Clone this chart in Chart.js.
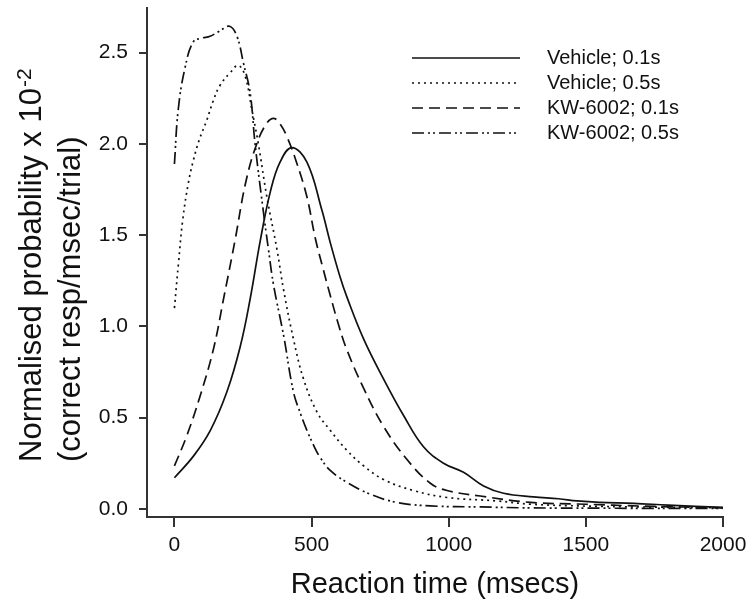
<!DOCTYPE html>
<html>
<head>
<meta charset="utf-8">
<title>Reaction time distributions</title>
<script src="https://cdn.jsdelivr.net/npm/chart.js@4.4.1/dist/chart.umd.min.js"></script>
<style>
  html, body { margin: 0; padding: 0; background: #fff; }
  #wrap { width: 747px; height: 611px; }
</style>
</head>
<body>
<div id="wrap"><canvas id="rtChart" width="747" height="611"></canvas></div>
<script>
const seriesNames = ['Vehicle; 0.1s', 'Vehicle; 0.5s', 'KW-6002; 0.1s', 'KW-6002; 0.5s'];

// reaction time (ms) / normalised probability (x 10^-2)
const vehicle01Ms = [0, 70, 131, 191, 240, 276, 313, 350, 385, 428, 483, 537, 568, 604, 629, 690, 763, 836, 908, 981, 1054, 1127, 1200, 1309, 1400, 1468, 1550, 1675, 1800, 2000];
const vehicle01Prob = [0.17, 0.29, 0.43, 0.64, 0.89, 1.15, 1.47, 1.74, 1.90, 1.98, 1.90, 1.64, 1.46, 1.27, 1.16, 0.93, 0.71, 0.51, 0.34, 0.25, 0.20, 0.125, 0.085, 0.065, 0.055, 0.043, 0.035, 0.03, 0.02, 0.008];

const vehicle05Ms = [0, 15, 30, 50, 69, 90, 118, 140, 166, 203, 233, 258, 282, 306, 337, 374, 398, 434, 471, 520, 568, 629, 690, 763, 872, 994, 1176, 1300, 1500, 1700, 2000];
const vehicle05Prob = [1.10, 1.35, 1.58, 1.78, 1.91, 2.02, 2.13, 2.23, 2.32, 2.39, 2.43, 2.37, 2.19, 2.00, 1.71, 1.42, 1.20, 0.93, 0.71, 0.53, 0.43, 0.32, 0.235, 0.16, 0.10, 0.062, 0.043, 0.025, 0.015, 0.01, 0.005];

const kw01Ms = [0, 45, 94, 143, 179, 222, 260, 300, 335, 361, 385, 410, 445, 483, 514, 543, 568, 600, 629, 690, 763, 848, 933, 994, 1115, 1298, 1500, 1700, 2000];
const kw01Prob = [0.235, 0.40, 0.62, 0.88, 1.15, 1.48, 1.79, 2.00, 2.11, 2.14, 2.11, 2.04, 1.90, 1.71, 1.48, 1.31, 1.17, 1.00, 0.87, 0.66, 0.45, 0.27, 0.14, 0.10, 0.07, 0.035, 0.025, 0.015, 0.005];

const kw05Ms = [0, 14, 39, 69, 100, 130, 166, 201, 228, 252, 276, 294, 325, 343, 361, 398, 434, 460, 483, 510, 532, 568, 629, 714, 811, 933, 1115, 1300, 1600, 2000];
const kw05Prob = [1.89, 2.19, 2.42, 2.56, 2.58, 2.59, 2.62, 2.645, 2.59, 2.44, 2.28, 2.00, 1.62, 1.42, 1.23, 0.95, 0.64, 0.52, 0.43, 0.34, 0.28, 0.21, 0.145, 0.08, 0.035, 0.016, 0.01, 0.005, 0.003, 0.002];

const xTicks = [0, 500, 1000, 1500, 2000];
const yTicks = [0, 0.5, 1, 1.5, 2, 2.5];

const ink = '#111';
const axisInk = '#333';
const fontFamily = '"Liberation Sans", Arial, sans-serif';

function toPoints(xs, ys) {
  return xs.map((x, i) => ({ x: x, y: ys[i] }));
}

function makeSeries(label, xs, ys, dash) {
  return {
    label: label,
    data: toPoints(xs, ys),
    borderColor: ink,
    borderWidth: 1.7,
    borderDash: dash,
    pointRadius: 0,
    tension: 0.4,
    fill: false
  };
}

// legend in the top right corner, line samples then labels
const sideLegend = {
  id: 'sideLegend',
  afterDraw(chart) {
    const ctx = chart.ctx;
    ctx.save();
    ctx.font = '20px ' + fontFamily;
    ctx.textBaseline = 'middle';
    ctx.fillStyle = ink;
    chart.data.datasets.forEach((ds, i) => {
      const y = 58 + i * 25;
      ctx.beginPath();
      ctx.setLineDash(ds.borderDash);
      ctx.lineWidth = ds.borderWidth;
      ctx.strokeStyle = ds.borderColor;
      ctx.moveTo(412, y);
      ctx.lineTo(520, y);
      ctx.stroke();
      ctx.setLineDash([]);
      ctx.fillText(ds.label, 547, y);
    });
    ctx.restore();
  }
};

// two line y title with a real superscript
const yTitle = {
  id: 'yTitle',
  afterDraw(chart) {
    const ctx = chart.ctx;
    ctx.save();
    ctx.translate(0, 462);
    ctx.rotate(-Math.PI / 2);
    ctx.fillStyle = ink;
    ctx.textAlign = 'left';
    ctx.textBaseline = 'alphabetic';
    const main = 'Normalised probability x 10';
    ctx.font = '31px ' + fontFamily;
    ctx.fillText(main, 0, 41);
    const w = ctx.measureText(main).width;
    ctx.font = '21px ' + fontFamily;
    ctx.fillText('-2', w + 1, 31);
    ctx.font = '31px ' + fontFamily;
    ctx.fillText('(correct resp/msec/trial)', 0, 80);
    ctx.restore();
  }
};

new Chart(document.getElementById('rtChart'), {
  type: 'line',
  data: {
    datasets: [
      makeSeries(seriesNames[0], vehicle01Ms, vehicle01Prob, []),
      makeSeries(seriesNames[1], vehicle05Ms, vehicle05Prob, [2, 4]),
      makeSeries(seriesNames[2], kw01Ms, kw01Prob, [11, 6]),
      makeSeries(seriesNames[3], kw05Ms, kw05Prob, [12, 4, 2, 3, 2, 4])
    ]
  },
  options: {
    responsive: false,
    animation: false,
    layout: { padding: { top: 8, right: 24, left: 0, bottom: 0 } },
    plugins: {
      legend: { display: false },
      tooltip: { enabled: false }
    },
    scales: {
      x: {
        type: 'linear',
        min: -100,
        max: 2000,
        afterBuildTicks: s => { s.ticks = xTicks.map(v => ({ value: v })); },
        afterFit: s => { s.height = 94; s.paddingLeft = 0; s.paddingRight = 0; },
        grid: { drawOnChartArea: false, drawTicks: true, tickLength: 10, color: axisInk, lineWidth: 2 },
        border: { color: axisInk, width: 2 },
        ticks: {
          color: ink,
          font: { size: 21, family: fontFamily },
          padding: 6,
          maxRotation: 0,
          callback: v => String(v)
        },
        title: {
          display: true,
          text: 'Reaction time (msecs)',
          color: ink,
          font: { size: 29, family: fontFamily },
          padding: { top: 0, bottom: 9 }
        }
      },
      y: {
        type: 'linear',
        min: -0.045,
        max: 2.745,
        afterBuildTicks: s => { s.ticks = yTicks.map(v => ({ value: v })); },
        afterFit: s => { s.width = 147; s.paddingTop = 0; s.paddingBottom = 0; },
        grid: { drawOnChartArea: false, drawTicks: true, tickLength: 8, color: axisInk, lineWidth: 2 },
        border: { color: axisInk, width: 2 },
        ticks: {
          color: ink,
          font: { size: 21, family: fontFamily },
          padding: 11,
          callback: v => v.toFixed(1)
        }
      }
    }
  },
  plugins: [sideLegend, yTitle]
});
</script>
</body>
</html>
